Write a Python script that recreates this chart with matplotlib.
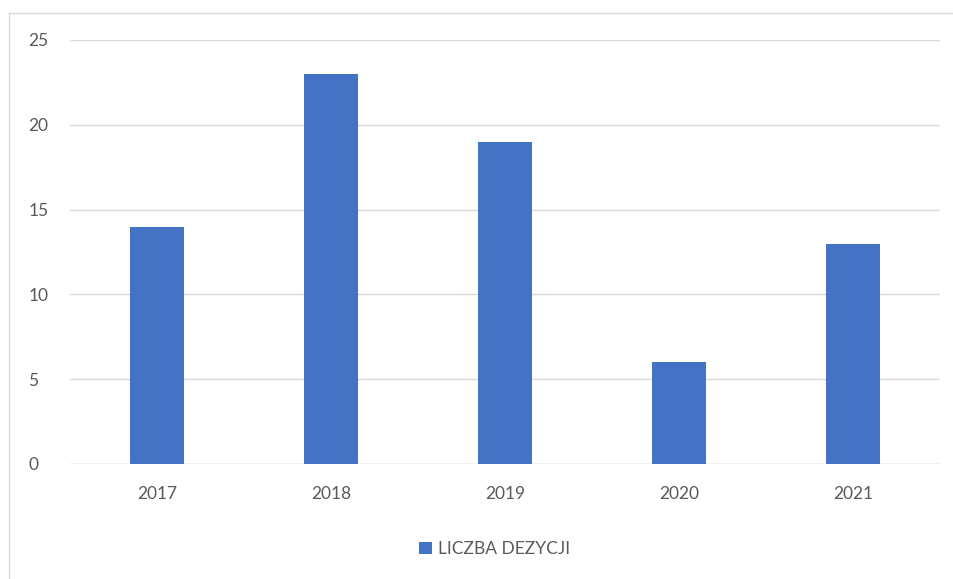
import matplotlib
matplotlib.use("Agg")
import matplotlib.pyplot as plt
from matplotlib.lines import Line2D

years = ["2017", "2018", "2019", "2020", "2021"]
values = [14, 23, 19, 6, 13]
yticks = [0, 5, 10, 15, 20, 25]
series_name = "LICZBA DEZYCJI"

plt.rcParams['font.family'] = ['Lato', 'DejaVu Sans']

W, H = 954, 579
fig = plt.figure(figsize=(W/100, H/100), dpi=100)
ax = fig.add_axes([70/W, 1-464/H, 870/W, 424/H])

x = list(range(len(years)))
ax.bar(x, values, width=0.31, color="#4472C4", zorder=3, label=series_name)
ax.set_xlim(-0.5, len(years)-0.5)
ax.set_ylim(0, 25)
ax.set_yticks(yticks)
ax.set_xticks(x)
ax.set_xticklabels(years)
ax.grid(axis='y', color="#d9d9d9", linewidth=1, zorder=0)
for s in ax.spines.values():
    s.set_visible(False)
ax.axhline(0, color="#d9d9d9", linewidth=1, zorder=2)
ax.tick_params(axis='both', length=0, labelsize=12.5, labelcolor="#595959")
ax.tick_params(axis='y', pad=30)
ax.tick_params(axis='x', pad=16)
for lab in ax.get_yticklabels():
    lab.set_horizontalalignment('left')

# outer border (left and top visible)
fig.add_artist(Line2D([9/W, 9/W], [0, 1-13/H], transform=fig.transFigure, color="#d9d9d9", lw=1))
fig.add_artist(Line2D([9/W, 1], [1-13/H, 1-13/H], transform=fig.transFigure, color="#d9d9d9", lw=1))

fig.legend(loc='center', bbox_to_anchor=(495/W, 1-549/H), frameon=False,
           fontsize=12.5, labelcolor="#595959", handlelength=0.7, handleheight=0.7,
           handletextpad=0.4)

fig.savefig("out.png", dpi=100, facecolor="white")
